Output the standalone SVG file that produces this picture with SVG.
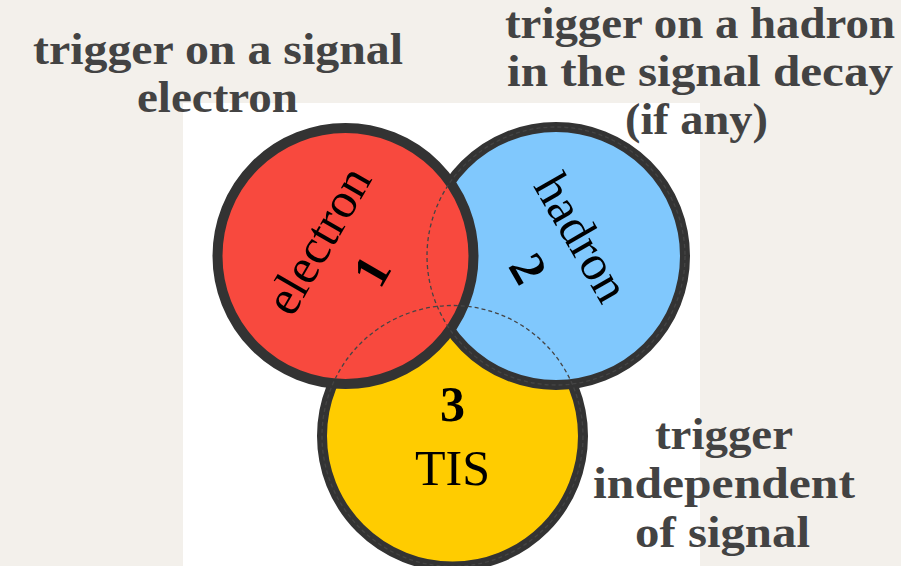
<svg xmlns="http://www.w3.org/2000/svg" width="901" height="566" viewBox="0 0 901 566">
<style>
.title{font-family:"Liberation Serif","Times New Roman",serif;font-weight:bold;font-size:44px;fill:#434343;text-anchor:middle}
.lbl{font-family:"Liberation Serif","Times New Roman",serif;font-size:50px;fill:#000;text-anchor:middle}
.num{font-family:"Liberation Serif","Times New Roman",serif;font-size:50px;font-weight:bold;fill:#000;text-anchor:middle}
.disc{stroke:#333;stroke-width:10}
.hidden{fill:none;stroke:#444;stroke-width:1.3;stroke-dasharray:4 3}
</style>
<rect x="0" y="0" width="901" height="566" fill="#f3f0eb"/>
<rect x="183" y="103" width="517" height="463" fill="#ffffff"/>

<g id="tis">
  <circle class="disc" cx="452.5" cy="436" r="130.5" fill="#ffcc00"/>
  <text class="num" x="452.5" y="421">3</text>
  <text class="lbl" x="452.5" y="485">TIS</text>
</g>
<g id="hadron">
  <circle class="disc" cx="556" cy="256" r="129" fill="#80c8fd"/>
  <g transform="translate(556,256) rotate(60)">
    <text class="lbl" x="-3" y="-15">hadron</text>
    <text class="num" x="-3" y="47">2</text>
  </g>
</g>
<g id="electron">
  <circle class="disc" cx="345.5" cy="256" r="128" fill="#f8493e"/>
  <g transform="translate(345.5,256) rotate(-60)">
    <text class="lbl" x="0" y="-15">electron</text>
    <text class="num" x="0" y="47">1</text>
  </g>
</g>
<g id="connectors">
  <circle class="hidden" cx="452.5" cy="436" r="130.5"/>
  <circle class="hidden" cx="556" cy="256" r="129"/>
</g>

<g id="label-electron">
  <text class="title" x="218" y="64" textLength="370" lengthAdjust="spacingAndGlyphs">trigger on a signal</text>
  <text class="title" x="217.5" y="112" textLength="161" lengthAdjust="spacingAndGlyphs">electron</text>
</g>
<g id="label-hadron">
  <text class="title" x="700" y="38" textLength="390" lengthAdjust="spacingAndGlyphs">trigger on a hadron</text>
  <text class="title" x="700" y="86" textLength="386" lengthAdjust="spacingAndGlyphs">in the signal decay</text>
  <text class="title" x="696.5" y="134" textLength="143" lengthAdjust="spacingAndGlyphs">(if any)</text>
</g>
<g id="label-tis">
  <text class="title" x="724" y="449" textLength="138" lengthAdjust="spacingAndGlyphs">trigger</text>
  <text class="title" x="724" y="498" textLength="262" lengthAdjust="spacingAndGlyphs">independent</text>
  <text class="title" x="722.5" y="547" textLength="175" lengthAdjust="spacingAndGlyphs">of signal</text>
</g>
</svg>
